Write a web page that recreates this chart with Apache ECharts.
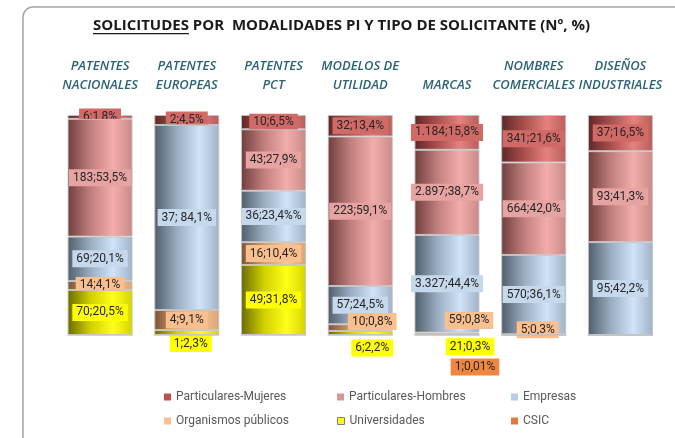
<!DOCTYPE html>
<html>
<head>
<meta charset="utf-8">
<script src="https://cdn.jsdelivr.net/npm/echarts@6/dist/echarts.min.js"></script>
<style>html,body{margin:0;padding:0;background:#fff;}#c{width:675px;height:438px;}</style>
</head>
<body>
<div id="c"></div>
<script>
const categories = ['PATENTES\nNACIONALES', 'PATENTES\nEUROPEAS', 'PATENTES\nPCT', 'MODELOS DE\nUTILIDAD', 'MARCAS', 'NOMBRES\nCOMERCIALES', 'DISEÑOS\nINDUSTRIALES'];

const mujeres       = [6, 2, 10, 32, 1184, 341, 37];
const hombres       = [183, 0, 43, 223, 2897, 664, 93];
const empresas      = [69, 37, 36, 57, 3327, 570, 95];
const organismos    = [14, 4, 16, 10, 59, 5, 0];
const universidades = [70, 1, 49, 6, 21, 0, 0];
const csic          = [0, 0, 0, 0, 1, 0, 0];

const lblMujeres       = ['6;1,8%', '2;4,5%', '10;6,5%', '32;13,4%', '1.184;15,8%', '341;21,6%', '37;16,5%'];
const lblHombres       = ['183;53,5%', '', '43;27,9%', '223;59,1%', '2.897;38,7%', '664;42,0%', '93;41,3%'];
const lblEmpresas      = ['69;20,1%', '37; 84,1%', '36;23,4%%', '57;24,5%', '3.327;44,4%', '570;36,1%', '95;42,2%'];
const lblOrganismos    = ['14;4,1%', '4;9,1%', '16;10,4%', '10;0,8%', '59;0,8%', '5;0,3%', ''];
const lblUniversidades = ['70;20,5%', '1;2,3%', '49;31,8%', '6;2,2%', '21;0,3%', '', ''];
const lblCsic          = ['', '', '', '', '1;0,01%', '', ''];

const titleText = 'SOLICITUDES POR  MODALIDADES PI Y TIPO DE SOLICITANTE (Nº, %)';
const titleUnderlined = 'SOLICITUDES';

// ---- styles (not data) ----
const labelOffsets = {
  'Organismos públicos': {3: [12, -6], 4: [22, -13], 5: [4, -5]},
  'Universidades': {1: [4, 11], 3: [12, 15], 4: [23, 12]},
  'CSIC': {4: [28, 32]}
};
function grad(stops) {
  return new echarts.graphic.LinearGradient(0, 0, 1, 0, stops.map((c, i) => ({offset: [0, 0.35, 0.7, 1][i], color: c})));
}
const seriesDefs = [
  {name: 'CSIC', values: csic, labels: lblCsic, fill: ['#7a3c0c', '#c46a2a', '#f08a3e', '#c06a2a'], box: '#EE8840', legend: '#E07B39'},
  {name: 'Universidades', values: universidades, labels: lblUniversidades, fill: ['#6a6a00', '#d0d000', '#ffff1a', '#d4d400'], box: '#FFFF00', legend: '#FFFF00'},
  {name: 'Organismos públicos', values: organismos, labels: lblOrganismos, fill: ['#7b5538', '#d29a6a', '#fbc596', '#d8a577'], box: '#F9BF8F', legend: '#FAC090'},
  {name: 'Empresas', values: empresas, labels: lblEmpresas, fill: ['#505e6c', '#9aacc0', '#d0e3f9', '#a0b2c6'], box: '#C6D8EC', legend: '#B9CDE5'},
  {name: 'Particulares-Hombres', values: hombres, labels: lblHombres, fill: ['#703e3d', '#bf7e7c', '#f3adab', '#c88a88'], box: '#E6A3A2', legend: '#D99694'},
  {name: 'Particulares-Mujeres', values: mujeres, labels: lblMujeres, fill: ['#5e2727', '#a94f4d', '#e4827e', '#b85d5a'], box: '#D16966', legend: '#C0504D'}
];

const totals = categories.map((_, i) => seriesDefs.reduce((s, d) => s + d.values[i], 0));

const series = seriesDefs.map((d, si) => ({
  name: d.name,
  type: 'bar',
  stack: 'total',
  barWidth: 65,
  z: 10 - si,
  itemStyle: {color: grad(d.fill), borderColor: 'rgba(195,195,195,0.9)', borderWidth: 1},
  data: d.values.map((v, i) => {
    const off = (labelOffsets[d.name] || {})[i] || [0, 0];
    return {
      value: v / totals[i] * 100,
      label: {
        show: v > 0 && d.labels[i] !== '',
        position: 'inside',
        offset: off,
        formatter: () => d.labels[i],
        backgroundColor: d.box,
        borderWidth: 0,
        textBorderWidth: 0,
        textShadowBlur: 0,
        color: '#262626',
        fontFamily: 'Roboto',
        fontSize: 12,
        padding: [3, 4, 2, 4]
      }
    };
  })
}));

const legendPos = {
  'Particulares-Mujeres': [164, 391], 'Particulares-Hombres': [337, 391], 'Empresas': [511, 391],
  'Organismos públicos': [164, 415], 'Universidades': [337, 415], 'CSIC': [511, 415]
};
const legends = seriesDefs.map(d => ({
  data: [{
    name: d.name,
    itemStyle: d.name === 'Universidades'
      ? {color: d.legend, borderColor: '#7f7f7f', borderWidth: 1}
      : {color: d.legend, borderWidth: 0, borderColor: d.legend}
  }],
  left: legendPos[d.name][0], top: legendPos[d.name][1],
  padding: 0, icon: 'rect', itemWidth: 7, itemHeight: 7, itemGap: 5,
  textStyle: {color: '#595959', fontSize: 12, fontFamily: 'Roboto'},
  selectedMode: false
}));

const titleSize = 15;
const mc = document.createElement('canvas').getContext('2d');
mc.font = 'bold ' + titleSize + 'px "Open Sans"';
const ulWidth = mc.measureText(titleUnderlined).width;
const titleLeft = 93;

const chart = echarts.init(document.getElementById('c'), null, {renderer: 'canvas'});
chart.setOption({
  animation: false,
  backgroundColor: '#fff',
  title: {
    text: titleText, left: titleLeft, top: 18, padding: 0,
    textStyle: {fontFamily: 'Open Sans', fontSize: titleSize, fontWeight: 'bold', color: '#1a1a1a'}
  },
  legend: legends,
  grid: {left: 56.7, right: 11.2, top: 115, bottom: 103, containLabel: false},
  xAxis: {
    type: 'category', position: 'top', data: categories,
    axisLine: {show: false}, axisTick: {show: false},
    axisLabel: {
      interval: 0, margin: 20, color: '#2B6274', fontFamily: 'Open Sans',
      fontStyle: 'italic', fontWeight: 600, fontSize: 13, lineHeight: 19
    }
  },
  yAxis: {type: 'value', min: 0, max: 100, show: false},
  series: series,
  graphic: [
    {type: 'rect', silent: true, z: -1, shape: {x: 23, y: 7, width: 720, height: 470, r: 10}, style: {fill: null, stroke: '#a6a6a6', lineWidth: 1.5}},
    {type: 'rect', silent: true, shape: {x: titleLeft, y: 33, width: ulWidth, height: 1.3}, style: {fill: '#1a1a1a'}}
  ]
});
</script>
</body>
</html>
